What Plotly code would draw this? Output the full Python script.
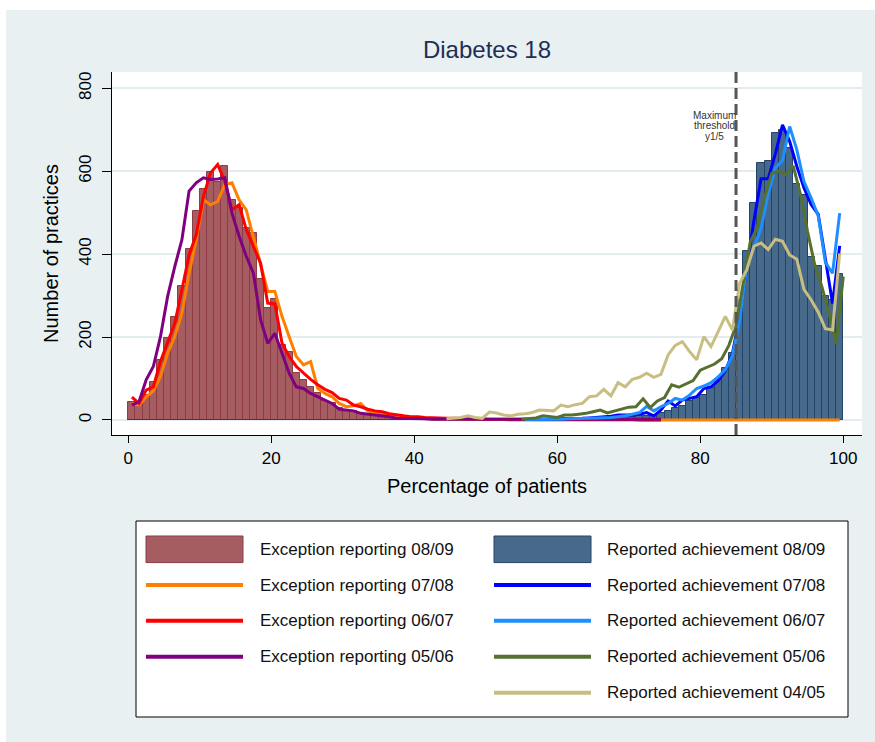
import plotly.graph_objects as go

# ---------------- data ----------------
bins = list(range(100))                 # histogram bins [k, k+1)
mid = [k + 0.5 for k in bins]           # bin midpoints for the polylines
pct_int = list(range(101))              # integer positions (05/06 achievement line)

exc_0809 = [44, 44, 60, 92, 145, 198, 248, 322, 412, 505,
            556, 597, 573, 613, 531, 511, 463, 451, 340, 271,
            293, 181, 163, 113, 97, 80, 64, 46, 40, 30,
            25, 22, 17, 14, 12, 10, 10, 8, 6, 5,
            4, 4, 3, 3, 2, 2, 2, 1, 1, 1,
            1, 1, 1, 1, 0, 0, 0, 0, 0, 0] + [0] * 40

rep_0809 = [0] * 55 + [1, 1, 2, 2, 2,
            3, 3, 4, 4, 5, 5, 6, 6, 7, 8,
            8, 9, 10, 12, 16, 22, 30, 33, 47, 54,
            60, 76, 97, 125, 161, 290, 407, 523, 620, 624,
            692, 700, 655, 570, 543, 394, 372, 300, 290, 352]

exc_0708 = [40, 36, 56, 70, 105, 161, 201, 258, 354, 435,
            531, 519, 527, 568, 572, 531, 507, 443, 378, 310,
            310, 250, 201, 153, 133, 141, 76, 64, 56, 40,
            32, 34, 40, 22, 18, 14, 10, 10, 6, 5,
            4, 3, 3, 2, 2, 2, 1, 1, 1, 1,
            1, 1, 1, 0, 0, 0, 0, 0, 0, 0] + [0] * 40

exc_0607 = [55, 40, 72, 80, 141, 185, 233, 314, 398, 447,
            539, 596, 616, 576, 507, 519, 459, 419, 378, 282,
            280, 185, 153, 129, 113, 98, 85, 74, 66, 52,
            48, 36, 32, 26, 22, 20, 15, 12, 10, 8,
            8, 6, 5, 5, 4, 4, 3, 3, 3, 2,
            2, 2, 2, 1, 1, 1, 1, 1, 1, 1,
            1, 1, 1, 1, 1, 1, 1, 1, 1, 1,
            1, 0, 0, 0, 0] + [None] * 25

exc_0506 = [36, 44, 97, 129, 201, 298, 370, 435, 552, 572,
            584, 580, 581, 584, 499, 443, 395, 354, 242, 185,
            209, 161, 113, 80, 76, 64, 56, 48, 40, 26,
            24, 22, 16, 14, 12, 10, 8, 4, 4, 3,
            3, 3, 2, 2, 2, 2, 2, 2, 2, 2,
            2, 2, 2, 2, 2, 2, 2, 2, 2, 2,
            2, 2, 2, 2, 2, 2, 2, 2, 2, 2,
            2, 2, 2, 2, 2] + [None] * 25

rep_0708 = [None] * 55 + [1, 1, 2, 2, 2,
            3, 3, 4, 4, 5, 6, 7, 9, 12, 12,
            12, 14, 18, 10, 24, 46, 34, 48, 52, 56,
            76, 80, 95, 118, 160, 250, 365, 480, 582, 582,
            642, 712, 672, 612, 560, 520, 496, 390, 281, 420]

rep_0607 = [None] * 55 + [1, 1, 1, 2, 2,
            2, 3, 3, 4, 4, 5, 5, 6, 8, 10,
            14, 18, 33, 22, 32, 40, 52, 48, 60, 76,
            82, 90, 104, 121, 155, 240, 370, 415, 462, 545,
            608, 626, 708, 652, 575, 536, 492, 380, 354, 499]

rep_0506 = [None] * 55 + [2, 3, 5, 10, 8,
            6, 12, 12, 14, 16, 20, 24, 17, 22, 26,
            31, 32, 51, 30, 46, 54, 85, 79, 88, 95,
            120, 128, 135, 148, 180, 228, 325, 430, 465, 537,
            595, 600, 592, 613, 545, 455, 375, 322, 258, 185,
            346]

rep_0405 = [None] * 44 + [3, 5, 6, 10, 6, 4,
            19, 17, 12, 10, 14, 15, 18, 24, 23, 22,
            36, 32, 37, 40, 56, 58, 74, 58, 90, 80,
            98, 103, 113, 103, 110, 157, 180, 189, 165, 145,
            201, 177, 213, 250, 217, 330, 362, 419, 427, 411,
            436, 431, 398, 388, 315, 290, 260, 220, 217, 402]

threshold = 85
x_ticks = [0, 20, 40, 60, 80, 100]
y_ticks = [0, 200, 400, 600, 800]

bar_series = [
    ("Exception reporting 08/09", exc_0809, "#A65D62", "#8E3B46"),
    ("Reported achievement 08/09", rep_0809, "#486A8A", "#234468"),
]
line_series = [
    ("Exception reporting 07/08", mid, exc_0708, "#FF8000"),
    ("Exception reporting 06/07", mid, exc_0607, "#FF0000"),
    ("Exception reporting 05/06", mid, exc_0506, "#800080"),
    ("Reported achievement 07/08", mid, rep_0708, "#0000FF"),
    ("Reported achievement 06/07", mid, rep_0607, "#1E8FFF"),
    ("Reported achievement 05/06", pct_int, rep_0506, "#56702F"),
    ("Reported achievement 04/05", mid, rep_0405, "#C8BE82"),
]

# ---------------- figure ----------------
W, H = 875, 742
ML, MR, MT, MB = 112, 13, 72, 307
PW, PH = W - ML - MR, H - MT - MB

def px(xp):
    return (xp - ML) / PW

def py(yp):
    return (H - MB - yp) / PH

fig = go.Figure()
for name, vals, fill, edge in bar_series:
    fig.add_trace(go.Bar(x=mid, y=vals, width=1, name=name,
                         marker=dict(color=fill, line=dict(color=edge, width=1)),
                         showlegend=False))
for name, xs, vals, col in line_series:
    fig.add_trace(go.Scatter(x=xs, y=vals, mode="lines", name=name,
                             line=dict(color=col, width=3),
                             connectgaps=False, showlegend=False))

FONT = "Liberation Sans, Arial, Helvetica, sans-serif"
BG = "#E8F0F2"

shapes = []
annotations = []

# threshold line
shapes.append(dict(type="line", xref="x", yref="paper", x0=threshold, x1=threshold,
                   y0=0, y1=1, line=dict(color="#555555", width=3, dash="11px,5px")))
for txt, yy in [("Maximum", 115.5), ("threshold", 126), ("y1/5", 136.5)]:
    annotations.append(dict(text=txt, xref="paper", yref="paper", x=px(714), y=py(yy),
                            xanchor="center", yanchor="middle", showarrow=False,
                            font=dict(family=FONT, size=10, color="#333333")))

# white page edge (left & top)
shapes.append(dict(type="rect", xref="paper", yref="paper", x0=px(-2), x1=px(6),
                   y0=py(H + 2), y1=py(-2), fillcolor="white", line=dict(width=0), layer="below"))
shapes.append(dict(type="rect", xref="paper", yref="paper", x0=px(-2), x1=px(W + 2),
                   y0=py(10), y1=py(-2), fillcolor="white", line=dict(width=0), layer="below"))

# custom legend (two columns, as in the reference)
shapes.append(dict(type="rect", xref="paper", yref="paper", x0=px(136), x1=px(848),
                   y0=py(717), y1=py(521), fillcolor="white", line=dict(color="black", width=1)))
rows_y = [549.3, 585, 620.7, 656.7, 692.7]
left_col = [bar_series[0]] + [s for s in line_series if s[0].startswith("Exception")]
right_col = [bar_series[1]] + [s for s in line_series if s[0].startswith("Reported")]
for col_items, sx0, sx1, tx in [(left_col, 146, 243, 258), (right_col, 494, 591, 605)]:
    for i, item in enumerate(col_items):
        yy = rows_y[i]
        if i == 0:
            name, _, fill, edge = item
            shapes.append(dict(type="rect", xref="paper", yref="paper",
                               x0=px(sx0), x1=px(sx1), y0=py(yy + 13.3), y1=py(yy - 13.3),
                               fillcolor=fill, line=dict(color=edge, width=1)))
        else:
            name, _, _, col = item
            shapes.append(dict(type="line", xref="paper", yref="paper",
                               x0=px(sx0), x1=px(sx1), y0=py(yy), y1=py(yy),
                               line=dict(color=col, width=4)))
        annotations.append(dict(text=name, xref="paper", yref="paper", x=px(tx), y=py(yy),
                                xanchor="left", yanchor="middle", showarrow=False,
                                font=dict(family=FONT, size=17, color="#111111")))

fig.update_layout(
    width=W, height=H,
    margin=dict(l=ML, r=MR, t=MT, b=MB, pad=0),
    paper_bgcolor=BG, plot_bgcolor="white",
    barmode="overlay", bargap=0,
    showlegend=False,
    font=dict(family=FONT, color="black"),
    title=dict(text="Diabetes 18", x=(ML + PW / 2) / W, xanchor="center",
               y=1 - 50 / H, yanchor="middle",
               font=dict(family=FONT, size=24, color="#1E2F55")),
    shapes=shapes, annotations=annotations,
    xaxis=dict(range=[-2.28, 102.62], tickvals=x_ticks, ticks="outside", ticklen=7,
               tickcolor="black", tickwidth=1, showline=True, linecolor="black", linewidth=1.3,
               showgrid=False, zeroline=False, tickfont=dict(size=17),
               title=dict(text="Percentage of patients", font=dict(size=20), standoff=12)),
    yaxis=dict(range=[-36.2, 839.3], tickvals=y_ticks, ticks="outside", ticklen=9,
               tickcolor="black", tickwidth=1, showline=True, linecolor="black", linewidth=1.3,
               showgrid=True, gridcolor="#E3ECEF", gridwidth=2, zeroline=False,
               tickangle=-90, tickfont=dict(size=17), ticklabelstandoff=4,
               title=dict(text="Number of practices", font=dict(size=20), standoff=12)),
)

fig.write_html("out.html")
